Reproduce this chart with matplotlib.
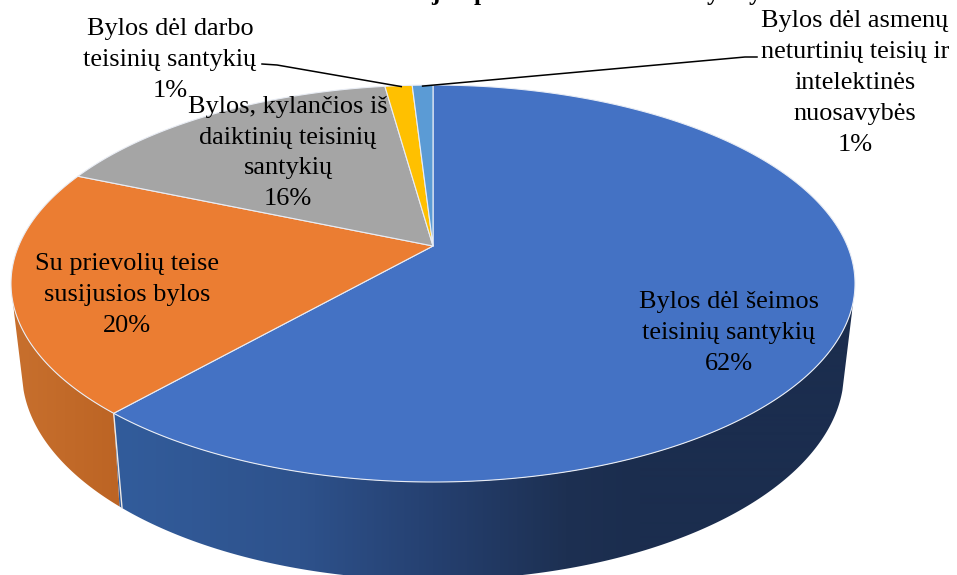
import numpy as np
import matplotlib
matplotlib.use("Agg")
import matplotlib.pyplot as plt
from matplotlib.patches import Polygon

categories = ["Bylos dėl šeimos\nteisinių santykių",
              "Su prievolių teise\nsusijusios bylos",
              "Bylos, kylančios iš\ndaiktinių teisinių\nsantykių",
              "Bylos dėl darbo\nteisinių santykių",
              "Bylos dėl asmenų\nneturtinių teisių ir\nintelektinės\nnuosavybės"]
values = [61.5, 19.9, 16.4, 1.25, 0.95]
percent_labels = ["62%", "20%", "16%", "1%", "1%"]
top_colors = ["#4472C4", "#EB7D32", "#A5A5A5", "#FFC000", "#5B9BD5"]
title_fragments = ["j", "p", "y", "y"]

W, H = 957, 575
fig = plt.figure(figsize=(W / 100, H / 100), dpi=100)
ax = fig.add_axes([0, 0, 1, 1])
plt.rcParams["font.family"] = ["Liberation Serif", "DejaVu Serif"]

# perspective of the pie
APEX = (433, 246)
K, A, B = 0.189, 191.4, 414.4
CX, CY, RX, RY = 433, 283.5, 422, 198.5
BCY, BRX, BRY = 372, 411, 208
T_SIDE = np.radians(5)


def disk_to_px(theta):
    u, v = np.sin(theta), np.cos(theta)
    d = 1 + K * v
    return APEX[0] + B * u / d, APEX[1] - A * v / d


def ellipse_param(theta):
    x, y = disk_to_px(theta)
    return np.mod(np.arctan2((y - CY) / RY, (x - CX) / RX), 2 * np.pi)


wall_stops = {
    0: [(120, (50, 92, 155)), (300, (46, 82, 140)), (433, (37, 64, 112)),
        (566, (29, 48, 82)), (640, (27, 45, 78)), (860, (27, 45, 78))],
    1: [(10, (200, 112, 46)), (120, (188, 100, 36))],
}

edges = np.radians(np.concatenate([[0], np.cumsum(values)]) * 3.6)
xs_grad = np.arange(0, W)


def band(t0, t1, grow=0.0):
    t = np.linspace(t0, t1, 300)
    top = np.c_[CX + RX * np.cos(t), CY + RY * np.sin(t)]
    bot = np.c_[CX + (BRX + grow) * np.cos(t[::-1]), BCY + grow + BRY * np.sin(t[::-1])]
    return np.vstack([top, bot])


# side walls of the two slices that face the viewer
t_sep = ellipse_param(edges[1])
ranges = {0: (T_SIDE, t_sep), 1: (t_sep, np.pi - T_SIDE)}
for i, (t0, t1) in ranges.items():
    sx, sc = zip(*wall_stops[i])
    sc = np.array(sc) / 255
    grad = np.stack([np.interp(xs_grad, sx, sc[:, c]) for c in range(3)], axis=-1)[None, :, :]
    im = ax.imshow(grad, extent=(0, W, H, 0), aspect="auto", interpolation="bilinear", zorder=2)
    clip = Polygon(band(t0, t1, grow=3), closed=True, transform=ax.transData)
    im.set_clip_path(clip)

ax.set_xlim(0, W)
ax.set_ylim(H, 0)
ax.axis("off")

# smooth outer edge of the wall
t = np.linspace(T_SIDE, np.pi - T_SIDE, 400)
lower = np.c_[CX + BRX * np.cos(t), BCY + BRY * np.sin(t)]
p_r = (CX + RX * np.cos(T_SIDE), CY + RY * np.sin(T_SIDE))
p_l = (CX - RX * np.cos(T_SIDE), CY + RY * np.sin(T_SIDE))
outer = np.vstack([[p_r], lower, [p_l], [(0, p_l[1])], [(0, H + 5)], [(W, H + 5)], [(W, p_r[1])]])
ax.add_patch(Polygon(outer, closed=True, facecolor="white", edgecolor="none", zorder=3))

# separator on the wall at the blue/orange boundary
ax.plot([CX + RX * np.cos(t_sep), CX + BRX * np.cos(t_sep)],
        [CY + RY * np.sin(t_sep), BCY + BRY * np.sin(t_sep)],
        color="#EFE9E4", lw=1.0, zorder=3.5)

# top face
for i in range(len(values)):
    ths = np.linspace(edges[i], edges[i + 1], 300)
    x, y = disk_to_px(ths)
    ax.fill(np.r_[APEX[0], x], np.r_[APEX[1], y], facecolor=top_colors[i],
            edgecolor="#E9EDF5", linewidth=0.8, zorder=4, joinstyle="round")

# labels
FS = 18.9
LS = 1.52
label_pos = [(729, 333), (127, 295), (288, 153), (170, 60), (855, 83)]
for cat, pct, (lx, ly) in zip(categories, percent_labels, label_pos):
    ax.text(lx, ly, cat + "\n" + pct, ha="center", va="center", multialignment="center",
            fontsize=FS, linespacing=LS, color="black", zorder=6)

# leader lines
lx0 = disk_to_px(np.radians((sum(values[:3]) + values[3] * 0.6) * 3.6))
lx1 = disk_to_px(np.radians((sum(values[:4]) + values[4] * 0.5) * 3.6))
ax.plot([262, 277, lx0[0]], [64, 65, lx0[1] + 1], color="black", lw=1.1, zorder=7)
ax.plot([lx1[0], 745, 757], [lx1[1] + 1, 57, 57], color="black", lw=1.1, zorder=7)

# title is cropped by the image edge: only descenders of these letters remain
for ch, tx in zip(title_fragments, [435, 481, 713, 755]):
    ax.text(tx, 0, ch, ha="center", va="baseline", fontsize=18, fontweight="bold",
            color="black", zorder=8)

fig.savefig("out.png", dpi=100, facecolor="white")
